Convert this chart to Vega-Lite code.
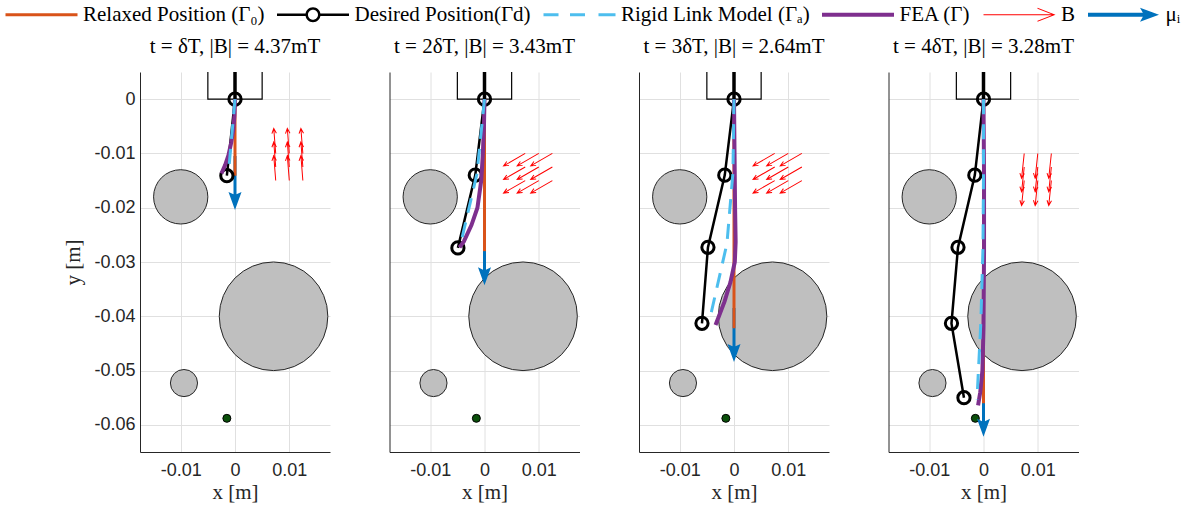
{
 "$schema": "https://vega.github.io/schema/vega-lite/v6.json",
 "background": "white",
 "padding": {"left": 0, "top": 4, "right": 4, "bottom": 4},
 "config": {
  "view": {"stroke": null},
  "axis": {"grid": true, "gridColor": "#e0e0e0", "gridWidth": 1, "domainColor": "#262626", "domainWidth": 1, "ticks": false, "tickSize": 0, "labelFont": "Liberation Sans", "labelFontSize": 18, "labelColor": "#262626", "titleFont": "Liberation Serif", "titleFontSize": 21, "titleFontWeight": "normal", "titleColor": "#262626"},
  "axisX": {"labelPadding": 9, "titlePadding": 2},
  "axisY": {"labelPadding": 5, "titlePadding": 10},
  "title": {"font": "Liberation Serif", "fontSize": 21, "fontWeight": "normal", "color": "#000000", "anchor": "middle", "offset": 13, "baseline": "alphabetic"}
 },
 "datasets": {
  "obst": [{"x": -0.01, "y": -0.018, "r": 0.005}, {"x": 0.0071, "y": -0.04, "r": 0.01}, {"x": -0.0094, "y": -0.0523, "r": 0.0025}],
  "goal": [{"x": -0.0015, "y": -0.0588}],
  "holder": [{"i": 0, "x": -0.005, "y": 0.005}, {"i": 1, "x": -0.005, "y": 0}, {"i": 2, "x": 0.005, "y": 0}, {"i": 3, "x": 0.005, "y": 0.005}],
  "stem": [{"x": 0, "y": 0, "y2": 0.005}],
  "bfield": [
   {"panel": 1, "x": 0.0075, "y": -0.01, "angle": 355.5}, {"panel": 1, "x": 0.01, "y": -0.01, "angle": 355.5}, {"panel": 1, "x": 0.0125, "y": -0.01, "angle": 355.5},
   {"panel": 1, "x": 0.0075, "y": -0.0125, "angle": 355.5}, {"panel": 1, "x": 0.01, "y": -0.0125, "angle": 355.5}, {"panel": 1, "x": 0.0125, "y": -0.0125, "angle": 355.5},
   {"panel": 1, "x": 0.0075, "y": -0.015, "angle": 355.5}, {"panel": 1, "x": 0.01, "y": -0.015, "angle": 355.5}, {"panel": 1, "x": 0.0125, "y": -0.015, "angle": 355.5},
   {"panel": 2, "x": 0.0075, "y": -0.01, "angle": 240}, {"panel": 2, "x": 0.01, "y": -0.01, "angle": 240}, {"panel": 2, "x": 0.0125, "y": -0.01, "angle": 240},
   {"panel": 2, "x": 0.0075, "y": -0.0125, "angle": 240}, {"panel": 2, "x": 0.01, "y": -0.0125, "angle": 240}, {"panel": 2, "x": 0.0125, "y": -0.0125, "angle": 240},
   {"panel": 2, "x": 0.0075, "y": -0.015, "angle": 240}, {"panel": 2, "x": 0.01, "y": -0.015, "angle": 240}, {"panel": 2, "x": 0.0125, "y": -0.015, "angle": 240},
   {"panel": 3, "x": 0.0075, "y": -0.01, "angle": 240}, {"panel": 3, "x": 0.01, "y": -0.01, "angle": 240}, {"panel": 3, "x": 0.0125, "y": -0.01, "angle": 240},
   {"panel": 3, "x": 0.0075, "y": -0.0125, "angle": 240}, {"panel": 3, "x": 0.01, "y": -0.0125, "angle": 240}, {"panel": 3, "x": 0.0125, "y": -0.0125, "angle": 240},
   {"panel": 3, "x": 0.0075, "y": -0.015, "angle": 240}, {"panel": 3, "x": 0.01, "y": -0.015, "angle": 240}, {"panel": 3, "x": 0.0125, "y": -0.015, "angle": 240},
   {"panel": 4, "x": 0.0075, "y": -0.01, "angle": 186}, {"panel": 4, "x": 0.01, "y": -0.01, "angle": 186}, {"panel": 4, "x": 0.0125, "y": -0.01, "angle": 186},
   {"panel": 4, "x": 0.0075, "y": -0.0125, "angle": 186}, {"panel": 4, "x": 0.01, "y": -0.0125, "angle": 186}, {"panel": 4, "x": 0.0125, "y": -0.0125, "angle": 186},
   {"panel": 4, "x": 0.0075, "y": -0.015, "angle": 186}, {"panel": 4, "x": 0.01, "y": -0.015, "angle": 186}, {"panel": 4, "x": 0.0125, "y": -0.015, "angle": 186}
  ],
  "relaxed": [{"panel": 1, "x": 0, "y": 0, "y2": -0.0141}, {"panel": 2, "x": 0, "y": 0, "y2": -0.028}, {"panel": 3, "x": 0, "y": 0, "y2": -0.0422}, {"panel": 4, "x": 0, "y": 0, "y2": -0.056}],
  "mu": [{"panel": 1, "x": 0, "y": -0.0204}, {"panel": 2, "x": 0, "y": -0.0343}, {"panel": 3, "x": 0, "y": -0.0484}, {"panel": 4, "x": 0, "y": -0.0622}],
  "desired": [
   {"panel": 1, "i": 0, "x": 0, "y": 0}, {"panel": 1, "i": 1, "x": -0.0015, "y": -0.0141},
   {"panel": 2, "i": 0, "x": 0, "y": 0}, {"panel": 2, "i": 1, "x": -0.0017, "y": -0.014}, {"panel": 2, "i": 2, "x": -0.0049, "y": -0.0274},
   {"panel": 3, "i": 0, "x": 0, "y": 0}, {"panel": 3, "i": 1, "x": -0.0017, "y": -0.014}, {"panel": 3, "i": 2, "x": -0.0048, "y": -0.0273}, {"panel": 3, "i": 3, "x": -0.0059, "y": -0.0413},
   {"panel": 4, "i": 0, "x": 0, "y": 0}, {"panel": 4, "i": 1, "x": -0.0016, "y": -0.014}, {"panel": 4, "i": 2, "x": -0.0047, "y": -0.0273}, {"panel": 4, "i": 3, "x": -0.0059, "y": -0.0413}, {"panel": 4, "i": 4, "x": -0.0036, "y": -0.055}
  ],
  "rigid": [
   {"panel": 1, "i": 0, "x": 0, "y": 0}, {"panel": 1, "i": 1, "x": -0.0012, "y": -0.0136},
   {"panel": 2, "i": 0, "x": 0, "y": 0}, {"panel": 2, "i": 1, "x": -0.0014, "y": -0.0138}, {"panel": 2, "i": 2, "x": -0.0045, "y": -0.0271},
   {"panel": 3, "i": 0, "x": 0, "y": 0}, {"panel": 3, "i": 1, "x": -0.0002, "y": -0.0136}, {"panel": 3, "i": 2, "x": -0.0013, "y": -0.0266}, {"panel": 3, "i": 3, "x": -0.0043, "y": -0.0398},
   {"panel": 4, "i": 0, "x": 0, "y": 0}, {"panel": 4, "i": 1, "x": 0, "y": -0.0138}, {"panel": 4, "i": 2, "x": -0.0001, "y": -0.0276}, {"panel": 4, "i": 3, "x": -0.0005, "y": -0.0413}, {"panel": 4, "i": 4, "x": -0.0012, "y": -0.0553}
  ],
  "fea": [
   {"panel": 1, "i": 0, "x": 0, "y": 0}, {"panel": 1, "i": 1, "x": -0.0001, "y": -0.003}, {"panel": 1, "i": 2, "x": -0.0003, "y": -0.0055}, {"panel": 1, "i": 3, "x": -0.0007, "y": -0.008}, {"panel": 1, "i": 4, "x": -0.0012, "y": -0.0103}, {"panel": 1, "i": 5, "x": -0.0018, "y": -0.0121}, {"panel": 1, "i": 6, "x": -0.0025, "y": -0.0137},
   {"panel": 2, "i": 0, "x": 0, "y": 0}, {"panel": 2, "i": 1, "x": -0.0001, "y": -0.005}, {"panel": 2, "i": 2, "x": -0.0003, "y": -0.01}, {"panel": 2, "i": 3, "x": -0.0006, "y": -0.015}, {"panel": 2, "i": 4, "x": -0.0013, "y": -0.02}, {"panel": 2, "i": 5, "x": -0.0024, "y": -0.0232}, {"panel": 2, "i": 6, "x": -0.0038, "y": -0.0262}, {"panel": 2, "i": 7, "x": -0.0046, "y": -0.0273},
   {"panel": 3, "i": 0, "x": 0, "y": 0}, {"panel": 3, "i": 1, "x": 0.0001, "y": -0.01}, {"panel": 3, "i": 2, "x": 0.0002, "y": -0.02}, {"panel": 3, "i": 3, "x": 0.0003, "y": -0.0263}, {"panel": 3, "i": 4, "x": 0.00015, "y": -0.03}, {"panel": 3, "i": 5, "x": -0.00065, "y": -0.0337}, {"panel": 3, "i": 6, "x": -0.00175, "y": -0.0373}, {"panel": 3, "i": 7, "x": -0.0034, "y": -0.0416},
   {"panel": 4, "i": 0, "x": 0, "y": 0}, {"panel": 4, "i": 1, "x": 0.0001, "y": -0.014}, {"panel": 4, "i": 2, "x": 0.0001, "y": -0.028}, {"panel": 4, "i": 3, "x": 0, "y": -0.042}, {"panel": 4, "i": 4, "x": -0.0002, "y": -0.05}, {"panel": 4, "i": 5, "x": -0.0006, "y": -0.054}, {"panel": 4, "i": 6, "x": -0.001, "y": -0.0564}
  ]
 },
 "spacing": 59.5,
 "bounds": "flush",
 "resolve": {"scale": {"color": "shared"}, "legend": {"color": "shared"}},
 "hconcat": [
  {
   "width": 190, "height": 380,
   "title": {"text": "t = δT, |B| = 4.37mT"},
   "encoding": {
    "x": {"field": "x", "type": "quantitative", "scale": {"domain": [-0.0175, 0.0175], "nice": false, "zero": false}, "axis": {"values": [-0.01, 0, 0.01], "labelExpr": "'' + datum.value", "title": "x [m]"}},
    "y": {"field": "y", "type": "quantitative", "scale": {"domain": [-0.065, 0.005], "nice": false, "zero": false}, "axis": {"values": [0, -0.01, -0.02, -0.03, -0.04, -0.05, -0.06], "labelExpr": "'' + datum.value", "title": "y [m]"}}
   },
   "layer": [
    {"data": {"name": "obst"}, "mark": {"type": "point", "shape": "circle", "filled": true, "fill": "#bfbfbf", "stroke": "#262626", "strokeWidth": 1, "opacity": 1}, "encoding": {"size": {"field": "r", "type": "quantitative", "scale": {"type": "pow", "exponent": 2, "domain": [0, 0.01], "range": [0, 11788]}, "legend": null}}},
    {"data": {"name": "goal"}, "mark": {"type": "point", "shape": "circle", "filled": true, "fill": "#0b500b", "stroke": "#000000", "strokeWidth": 1, "size": 64, "opacity": 1}},
    {"data": {"name": "holder"}, "mark": {"type": "line", "color": "#000000", "strokeWidth": 1.2}, "encoding": {"order": {"field": "i", "type": "quantitative"}}},
    {"data": {"name": "stem"}, "mark": {"type": "rule", "color": "#000000", "strokeWidth": 3.5}, "encoding": {"y2": {"field": "y2"}}},
    {"data": {"name": "bfield"}, "transform": [{"filter": "datum.panel == 1"}], "mark": {"type": "point", "shape": "M0,0L0,-2M-0.18,-1.6L0,-2L0.18,-1.6", "filled": false, "size": 625, "strokeWidth": 1, "opacity": 1},
     "encoding": {"angle": {"field": "angle", "type": "quantitative", "scale": null},
      "color": {"datum": "B", "type": "nominal", "scale": {"domain": ["Relaxed Position (Γ₀)", "Desired Position(Γd)", "Rigid Link Model (Γₐ)", "FEA (Γ)", "B", "μᵢ"], "range": ["#D95319", "#000000", "#4DBEEE", "#7E2F8E", "#FF0000", "#0072BD"]},
       "legend": {"title": null, "orient": "none", "legendX": -140, "legendY": -68, "direction": "horizontal", "columns": 6, "padding": 0, "symbolSize": 100, "symbolStrokeWidth": 0, "symbolType": "M-1,-0.3L13.4,-0.3L13.4,0.3L-1,0.3Z", "labelOffset": 62, "columnPadding": 6.5, "labelFont": "Liberation Serif", "labelFontSize": 21, "labelColor": "#000000", "labelLimit": 0,
        "encoding": {"symbols": {
         "shape": {"value": {"expr": "['M-1,-0.3L13.4,-0.3L13.4,0.3L-1,0.3Z','M-1,-0.25L4.8,-0.25L4.8,0.25L-1,0.25Z M7.6,-0.25L13.4,-0.25L13.4,0.25L7.6,0.25Z M4.7,0A1.5,1.5,0,1,1,7.7,0A1.5,1.5,0,1,1,4.7,0Z M5.2,0A1,1,0,1,0,7.2,0A1,1,0,1,0,5.2,0Z','M-1,-0.3L2,-0.3L2,0.3L-1,0.3Z M4.3,-0.3L7.3,-0.3L7.3,0.3L4.3,0.3Z M10,-0.3L13.4,-0.3L13.4,0.3L10,0.3Z','M-1,-0.4L13.4,-0.4L13.4,0.4L-1,0.4Z','M-1,-0.1L13,-0.1L13,0.1L-1,0.1Z M13.4,0L12.9,0L9.8,-1.2L9.8,-1.4Z M13.4,0L9.8,1.4L9.8,1.2L12.9,0Z','M-1,-0.4L10.2,-0.4L10.2,0.4L-1,0.4Z M13.2,0L9.4,1.4L10.2,0L9.4,-1.4Z'][datum.index]"}},
         "fill": {"value": {"expr": "['#D95319','#000000','#4DBEEE','#7E2F8E','#FF0000','#0072BD'][datum.index]"}},
         "stroke": {"value": "transparent"},
         "strokeWidth": {"value": 0},
         "opacity": {"value": 1},
         "size": {"value": 100}
        }}}}}},
    {"data": {"name": "mu"}, "transform": [{"filter": "datum.panel == 1"}], "mark": {"type": "point", "shape": "M0,0L-2.17,-6L-0.5,-5.2L-0.5,-18L0.5,-18L0.5,-5.2L2.17,-6Z", "filled": true, "size": 36, "strokeWidth": 0, "opacity": 1}, "encoding": {"color": {"datum": "μᵢ", "type": "nominal"}}},
    {"data": {"name": "relaxed"}, "transform": [{"filter": "datum.panel == 1"}], "mark": {"type": "rule", "strokeWidth": 3}, "encoding": {"y2": {"field": "y2"}, "color": {"datum": "Relaxed Position (Γ₀)", "type": "nominal"}}},
    {"data": {"name": "desired"}, "transform": [{"filter": "datum.panel == 1"}], "mark": {"type": "line", "strokeWidth": 2.5}, "encoding": {"order": {"field": "i", "type": "quantitative"}, "color": {"datum": "Desired Position(Γd)", "type": "nominal"}}},
    {"data": {"name": "desired"}, "transform": [{"filter": "datum.panel == 1"}], "mark": {"type": "point", "shape": "circle", "filled": false, "size": 150, "strokeWidth": 3, "opacity": 1}, "encoding": {"color": {"datum": "Desired Position(Γd)", "type": "nominal"}}},
    {"data": {"name": "fea"}, "transform": [{"filter": "datum.panel == 1"}], "mark": {"type": "line", "strokeWidth": 4}, "encoding": {"order": {"field": "i", "type": "quantitative"}, "color": {"datum": "FEA (Γ)", "type": "nominal"}}},
    {"data": {"name": "rigid"}, "transform": [{"filter": "datum.panel == 1"}], "mark": {"type": "line", "strokeWidth": 3, "strokeDash": [15, 10]}, "encoding": {"order": {"field": "i", "type": "quantitative"}, "color": {"datum": "Rigid Link Model (Γₐ)", "type": "nominal"}}}
   ]
  },
  {
   "width": 190, "height": 380,
   "title": {"text": "t = 2δT, |B| = 3.43mT"},
   "encoding": {
    "x": {"field": "x", "type": "quantitative", "scale": {"domain": [-0.0175, 0.0175], "nice": false, "zero": false}, "axis": {"values": [-0.01, 0, 0.01], "labelExpr": "'' + datum.value", "title": "x [m]"}},
    "y": {"field": "y", "type": "quantitative", "scale": {"domain": [-0.065, 0.005], "nice": false, "zero": false}, "axis": {"values": [0, -0.01, -0.02, -0.03, -0.04, -0.05, -0.06], "labels": false, "title": null}}
   },
   "layer": [
    {"data": {"name": "obst"}, "mark": {"type": "point", "shape": "circle", "filled": true, "fill": "#bfbfbf", "stroke": "#262626", "strokeWidth": 1, "opacity": 1}, "encoding": {"size": {"field": "r", "type": "quantitative", "scale": {"type": "pow", "exponent": 2, "domain": [0, 0.01], "range": [0, 11788]}, "legend": null}}},
    {"data": {"name": "goal"}, "mark": {"type": "point", "shape": "circle", "filled": true, "fill": "#0b500b", "stroke": "#000000", "strokeWidth": 1, "size": 64, "opacity": 1}},
    {"data": {"name": "holder"}, "mark": {"type": "line", "color": "#000000", "strokeWidth": 1.2}, "encoding": {"order": {"field": "i", "type": "quantitative"}}},
    {"data": {"name": "stem"}, "mark": {"type": "rule", "color": "#000000", "strokeWidth": 3.5}, "encoding": {"y2": {"field": "y2"}}},
    {"data": {"name": "bfield"}, "transform": [{"filter": "datum.panel == 2"}], "mark": {"type": "point", "shape": "M0,0L0,-2M-0.18,-1.6L0,-2L0.18,-1.6", "filled": false, "size": 625, "strokeWidth": 1, "opacity": 1}, "encoding": {"angle": {"field": "angle", "type": "quantitative", "scale": null}, "color": {"datum": "B", "type": "nominal"}}},
    {"data": {"name": "mu"}, "transform": [{"filter": "datum.panel == 2"}], "mark": {"type": "point", "shape": "M0,0L-2.17,-6L-0.5,-5.2L-0.5,-18L0.5,-18L0.5,-5.2L2.17,-6Z", "filled": true, "size": 36, "strokeWidth": 0, "opacity": 1}, "encoding": {"color": {"datum": "μᵢ", "type": "nominal"}}},
    {"data": {"name": "relaxed"}, "transform": [{"filter": "datum.panel == 2"}], "mark": {"type": "rule", "strokeWidth": 3}, "encoding": {"y2": {"field": "y2"}, "color": {"datum": "Relaxed Position (Γ₀)", "type": "nominal"}}},
    {"data": {"name": "desired"}, "transform": [{"filter": "datum.panel == 2"}], "mark": {"type": "line", "strokeWidth": 2.5}, "encoding": {"order": {"field": "i", "type": "quantitative"}, "color": {"datum": "Desired Position(Γd)", "type": "nominal"}}},
    {"data": {"name": "desired"}, "transform": [{"filter": "datum.panel == 2"}], "mark": {"type": "point", "shape": "circle", "filled": false, "size": 150, "strokeWidth": 3, "opacity": 1}, "encoding": {"color": {"datum": "Desired Position(Γd)", "type": "nominal"}}},
    {"data": {"name": "fea"}, "transform": [{"filter": "datum.panel == 2"}], "mark": {"type": "line", "strokeWidth": 4}, "encoding": {"order": {"field": "i", "type": "quantitative"}, "color": {"datum": "FEA (Γ)", "type": "nominal"}}},
    {"data": {"name": "rigid"}, "transform": [{"filter": "datum.panel == 2"}], "mark": {"type": "line", "strokeWidth": 3, "strokeDash": [15, 10]}, "encoding": {"order": {"field": "i", "type": "quantitative"}, "color": {"datum": "Rigid Link Model (Γₐ)", "type": "nominal"}}}
   ]
  },
  {
   "width": 190, "height": 380,
   "title": {"text": "t = 3δT, |B| = 2.64mT"},
   "encoding": {
    "x": {"field": "x", "type": "quantitative", "scale": {"domain": [-0.0175, 0.0175], "nice": false, "zero": false}, "axis": {"values": [-0.01, 0, 0.01], "labelExpr": "'' + datum.value", "title": "x [m]"}},
    "y": {"field": "y", "type": "quantitative", "scale": {"domain": [-0.065, 0.005], "nice": false, "zero": false}, "axis": {"values": [0, -0.01, -0.02, -0.03, -0.04, -0.05, -0.06], "labels": false, "title": null}}
   },
   "layer": [
    {"data": {"name": "obst"}, "mark": {"type": "point", "shape": "circle", "filled": true, "fill": "#bfbfbf", "stroke": "#262626", "strokeWidth": 1, "opacity": 1}, "encoding": {"size": {"field": "r", "type": "quantitative", "scale": {"type": "pow", "exponent": 2, "domain": [0, 0.01], "range": [0, 11788]}, "legend": null}}},
    {"data": {"name": "goal"}, "mark": {"type": "point", "shape": "circle", "filled": true, "fill": "#0b500b", "stroke": "#000000", "strokeWidth": 1, "size": 64, "opacity": 1}},
    {"data": {"name": "holder"}, "mark": {"type": "line", "color": "#000000", "strokeWidth": 1.2}, "encoding": {"order": {"field": "i", "type": "quantitative"}}},
    {"data": {"name": "stem"}, "mark": {"type": "rule", "color": "#000000", "strokeWidth": 3.5}, "encoding": {"y2": {"field": "y2"}}},
    {"data": {"name": "bfield"}, "transform": [{"filter": "datum.panel == 3"}], "mark": {"type": "point", "shape": "M0,0L0,-2M-0.18,-1.6L0,-2L0.18,-1.6", "filled": false, "size": 625, "strokeWidth": 1, "opacity": 1}, "encoding": {"angle": {"field": "angle", "type": "quantitative", "scale": null}, "color": {"datum": "B", "type": "nominal"}}},
    {"data": {"name": "mu"}, "transform": [{"filter": "datum.panel == 3"}], "mark": {"type": "point", "shape": "M0,0L-2.17,-6L-0.5,-5.2L-0.5,-18L0.5,-18L0.5,-5.2L2.17,-6Z", "filled": true, "size": 36, "strokeWidth": 0, "opacity": 1}, "encoding": {"color": {"datum": "μᵢ", "type": "nominal"}}},
    {"data": {"name": "relaxed"}, "transform": [{"filter": "datum.panel == 3"}], "mark": {"type": "rule", "strokeWidth": 3}, "encoding": {"y2": {"field": "y2"}, "color": {"datum": "Relaxed Position (Γ₀)", "type": "nominal"}}},
    {"data": {"name": "desired"}, "transform": [{"filter": "datum.panel == 3"}], "mark": {"type": "line", "strokeWidth": 2.5}, "encoding": {"order": {"field": "i", "type": "quantitative"}, "color": {"datum": "Desired Position(Γd)", "type": "nominal"}}},
    {"data": {"name": "desired"}, "transform": [{"filter": "datum.panel == 3"}], "mark": {"type": "point", "shape": "circle", "filled": false, "size": 150, "strokeWidth": 3, "opacity": 1}, "encoding": {"color": {"datum": "Desired Position(Γd)", "type": "nominal"}}},
    {"data": {"name": "fea"}, "transform": [{"filter": "datum.panel == 3"}], "mark": {"type": "line", "strokeWidth": 4}, "encoding": {"order": {"field": "i", "type": "quantitative"}, "color": {"datum": "FEA (Γ)", "type": "nominal"}}},
    {"data": {"name": "rigid"}, "transform": [{"filter": "datum.panel == 3"}], "mark": {"type": "line", "strokeWidth": 3, "strokeDash": [15, 10]}, "encoding": {"order": {"field": "i", "type": "quantitative"}, "color": {"datum": "Rigid Link Model (Γₐ)", "type": "nominal"}}}
   ]
  },
  {
   "width": 190, "height": 380,
   "title": {"text": "t = 4δT, |B| = 3.28mT"},
   "encoding": {
    "x": {"field": "x", "type": "quantitative", "scale": {"domain": [-0.0175, 0.0175], "nice": false, "zero": false}, "axis": {"values": [-0.01, 0, 0.01], "labelExpr": "'' + datum.value", "title": "x [m]"}},
    "y": {"field": "y", "type": "quantitative", "scale": {"domain": [-0.065, 0.005], "nice": false, "zero": false}, "axis": {"values": [0, -0.01, -0.02, -0.03, -0.04, -0.05, -0.06], "labels": false, "title": null}}
   },
   "layer": [
    {"data": {"name": "obst"}, "mark": {"type": "point", "shape": "circle", "filled": true, "fill": "#bfbfbf", "stroke": "#262626", "strokeWidth": 1, "opacity": 1}, "encoding": {"size": {"field": "r", "type": "quantitative", "scale": {"type": "pow", "exponent": 2, "domain": [0, 0.01], "range": [0, 11788]}, "legend": null}}},
    {"data": {"name": "goal"}, "mark": {"type": "point", "shape": "circle", "filled": true, "fill": "#0b500b", "stroke": "#000000", "strokeWidth": 1, "size": 64, "opacity": 1}},
    {"data": {"name": "holder"}, "mark": {"type": "line", "color": "#000000", "strokeWidth": 1.2}, "encoding": {"order": {"field": "i", "type": "quantitative"}}},
    {"data": {"name": "stem"}, "mark": {"type": "rule", "color": "#000000", "strokeWidth": 3.5}, "encoding": {"y2": {"field": "y2"}}},
    {"data": {"name": "bfield"}, "transform": [{"filter": "datum.panel == 4"}], "mark": {"type": "point", "shape": "M0,0L0,-2M-0.18,-1.6L0,-2L0.18,-1.6", "filled": false, "size": 625, "strokeWidth": 1, "opacity": 1}, "encoding": {"angle": {"field": "angle", "type": "quantitative", "scale": null}, "color": {"datum": "B", "type": "nominal"}}},
    {"data": {"name": "mu"}, "transform": [{"filter": "datum.panel == 4"}], "mark": {"type": "point", "shape": "M0,0L-2.17,-6L-0.5,-5.2L-0.5,-18L0.5,-18L0.5,-5.2L2.17,-6Z", "filled": true, "size": 36, "strokeWidth": 0, "opacity": 1}, "encoding": {"color": {"datum": "μᵢ", "type": "nominal"}}},
    {"data": {"name": "relaxed"}, "transform": [{"filter": "datum.panel == 4"}], "mark": {"type": "rule", "strokeWidth": 3}, "encoding": {"y2": {"field": "y2"}, "color": {"datum": "Relaxed Position (Γ₀)", "type": "nominal"}}},
    {"data": {"name": "desired"}, "transform": [{"filter": "datum.panel == 4"}], "mark": {"type": "line", "strokeWidth": 2.5}, "encoding": {"order": {"field": "i", "type": "quantitative"}, "color": {"datum": "Desired Position(Γd)", "type": "nominal"}}},
    {"data": {"name": "desired"}, "transform": [{"filter": "datum.panel == 4"}], "mark": {"type": "point", "shape": "circle", "filled": false, "size": 150, "strokeWidth": 3, "opacity": 1}, "encoding": {"color": {"datum": "Desired Position(Γd)", "type": "nominal"}}},
    {"data": {"name": "fea"}, "transform": [{"filter": "datum.panel == 4"}], "mark": {"type": "line", "strokeWidth": 4}, "encoding": {"order": {"field": "i", "type": "quantitative"}, "color": {"datum": "FEA (Γ)", "type": "nominal"}}},
    {"data": {"name": "rigid"}, "transform": [{"filter": "datum.panel == 4"}], "mark": {"type": "line", "strokeWidth": 3, "strokeDash": [15, 10]}, "encoding": {"order": {"field": "i", "type": "quantitative"}, "color": {"datum": "Rigid Link Model (Γₐ)", "type": "nominal"}}}
   ]
  }
 ]
}
